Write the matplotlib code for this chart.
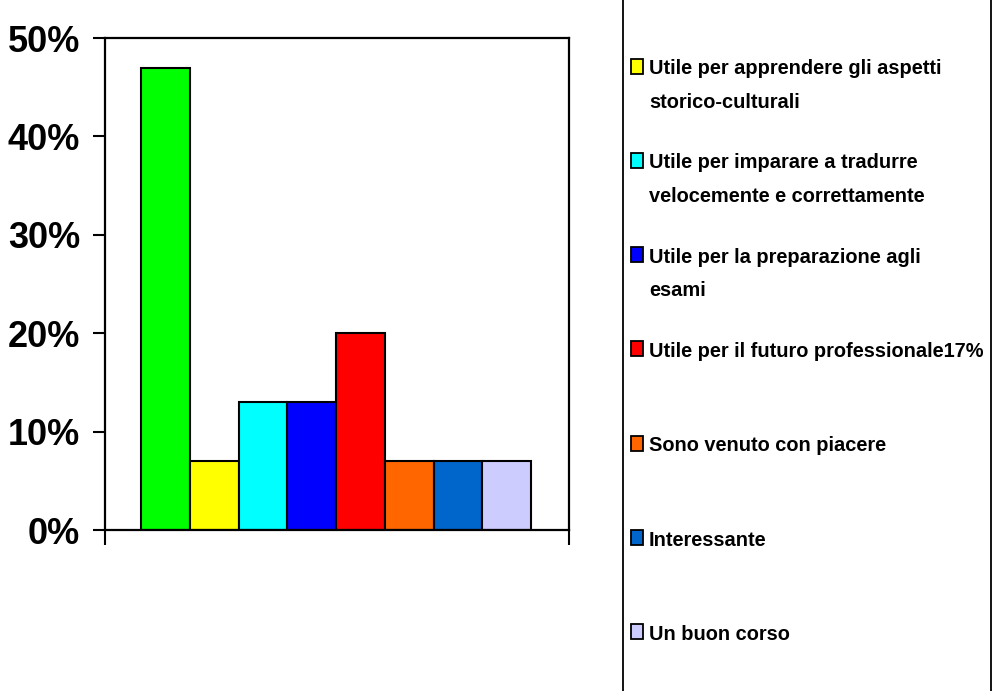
import matplotlib.pyplot as plt
from matplotlib.patches import Rectangle

# survey answers, percent of respondents
percent = [47, 7, 13, 13, 20, 7, 7, 7]
colors = ['#00FF00', '#FFFF00', '#00FFFF', '#0000FF', '#FF0000', '#FF6600', '#0066CC', '#CCCCFF']
labels = [
    '',
    'Utile per apprendere gli aspetti\nstorico-culturali',
    'Utile per imparare a tradurre\nvelocemente e correttamente',
    'Utile per la preparazione agli\nesami',
    'Utile per il futuro professionale17%',
    'Sono venuto con piacere',
    'Interessante',
    'Un buon corso',
]
yticks = [0, 10, 20, 30, 40, 50]

plt.rcParams['font.family'] = ['Liberation Sans', 'DejaVu Sans']
plt.rcParams['font.weight'] = 'bold'

W, H = 995, 691
fig = plt.figure(figsize=(W / 100, H / 100), dpi=100)
ax = fig.add_axes([105 / W, 1 - 530 / H, (569 - 105) / W, (530 - 38) / H])

x = list(range(len(percent)))
ax.bar(x, percent, width=1.0, color=colors, edgecolor='black', linewidth=1.5, zorder=2)

ax.set_xlim(-1.24, 8.28)
ax.set_ylim(0, 50)
ax.set_yticks(yticks)
ax.set_yticklabels([f'{v}%' for v in yticks], fontsize=26, fontweight='bold')
ax.set_xticks([-1.24, 8.28])
ax.set_xticklabels([])
ax.tick_params(axis='y', length=9, width=1.5, pad=9)
ax.tick_params(axis='x', length=11, width=1.5)
for s in ax.spines.values():
    s.set_linewidth(1.6)

# legend panel, drawn in figure pixels
px = lambda xx, yy: (xx / W, 1 - yy / H)
fig.add_artist(Rectangle(px(623, H + 20), (991 - 623) / W, (H + 40) / H,
                         transform=fig.transFigure, fill=False,
                         edgecolor='black', linewidth=1.3, clip_on=False))
step = 94.3
first = 66 - step
for i, (lab, c) in enumerate(zip(labels, colors)):
    cy = first + i * step
    if not lab or cy < 0:
        continue
    fig.add_artist(Rectangle(px(631, cy + 7.5), 12 / W, 15 / H,
                             transform=fig.transFigure, facecolor=c,
                             edgecolor='black', linewidth=1.3))
    for k, line in enumerate(lab.split('\n')):
        fig.text(*px(649, cy + 8 + k * 33.5), line, ha='left', va='baseline',
                 fontsize=14.4, fontweight='bold')

fig.savefig('out.png', dpi=100)
